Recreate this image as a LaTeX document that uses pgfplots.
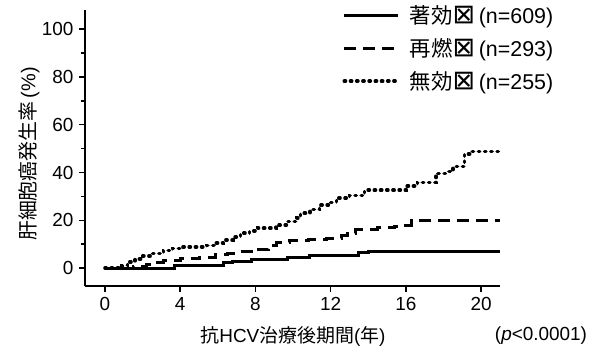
\documentclass[border=0pt]{standalone}
\usepackage{fontspec}
\setmainfont{Liberation Sans}
\newfontfamily\cjk{Noto Sans CJK JP}
\newfontfamily\dejavu{DejaVu Sans}
\usepackage{pgfplots}
\pgfplotsset{compat=1.18}
\newcommand{\bx}{{\dejavu\fontsize{27}{27}\selectfont\raisebox{-0.6bp}{⊠}}}
\begin{document}
\begin{tikzpicture}
\useasboundingbox (-85bp,-71bp) rectangle (512bp,286bp);
\begin{axis}[
 at={(0,0)}, anchor=south west,
 width=415bp, height=276bp, scale only axis,
 xmin=-1.06, xmax=21, ymin=-7.5, ymax=108,
 axis x line*=bottom, axis y line*=left,
 axis line style={line width=1.6bp, -},
 xtick={0,4,...,20}, ytick={0,20,...,100}, minor ytick={10,30,...,90},
 tick align=outside, major tick length=6bp, minor tick length=4bp,
 every tick/.style={line width=1.4bp, black},
 tick label style={font=\fontsize{19}{19}\selectfont},
 xticklabel style={yshift=-2bp},
 yticklabel style={xshift=-2bp},
 /pgf/number format/assume math mode=true,
 legend style={draw=none, fill=none, at={(rel axis cs:0.62,1.025)}, anchor=north west,
   font=\fontsize{21.5}{21.5}\selectfont, row sep=9.5bp, inner sep=0pt,
   /tikz/every odd column/.style={column sep=8bp}},
 legend image code/.code={\draw[#1] (0bp,0bp) -- (54bp,0bp);},
 legend cell align=left,
 clip=false,
]
\addplot[const plot, black, line width=3bp] coordinates {
 (0,0) (3.7,1.2) (6.3,2.5) (6.8,2.8) (7.8,3.6) (9.7,4.4) (10.9,5.3) (13.5,6.5) (14.0,7.0) (21,7.0)};
\addlegendentry{{\cjk 著効}\bx\,(n=609)}
\addplot[const plot, black, line width=3bp, dash pattern=on 12bp off 7bp] coordinates {
 (0,0) (1.5,0.8) (2.2,1.5) (2.7,2.5) (3.1,3.1) (4.0,3.9) (5.0,4.5) (5.9,5.8) (6.5,6.3) (7.2,6.8) (8.0,7.9) (8.7,9.5) (9.1,10.5) (9.8,11.7) (10.8,12.1) (11.8,12.5) (12.6,13.5) (12.9,14.6) (13.3,16.3) (14.5,16.9) (15.4,17.5) (15.6,18.0) (16.3,19.8) (21,19.8)};
\addlegendentry{{\cjk 再燃}\bx\,(n=293)}
\addplot[const plot, black, line width=3.4bp, line cap=round, dash pattern=on 1.4bp off 4.8bp] coordinates {
 (0,0) (0.9,1.0) (1.2,2.6) (1.6,3.8) (2.0,5.0) (2.5,6.0) (3.1,7.3) (3.6,8.2) (4.0,8.9) (5.4,9.4) (5.9,10.5) (6.3,11.7) (6.8,13.0) (7.2,14.6) (7.7,15.6) (8.1,16.7) (9.1,18.0) (9.7,19.4) (10.2,21.0) (10.4,23.0) (10.9,24.5) (11.4,26.4) (11.9,27.5) (12.3,29.3) (13.0,30.3) (13.8,32.6) (16.0,34.4) (16.6,35.8) (17.6,39.7) (18.2,40.3) (18.5,42.4) (19.1,47.7) (19.4,48.7) (21,48.7)};
\addlegendentry{{\cjk 無効}\bx\,(n=255)}
\end{axis}
\node[font=\fontsize{19}{19}\selectfont] at (208bp,-50bp) {{\cjk 抗}HCV{\cjk 治療後期間}({\cjk 年})};
\node[font=\fontsize{20}{20}\selectfont, rotate=90] at (-56bp,132bp) {{\cjk 肝細胞癌発生率}\,(\%)};
\node[font=\fontsize{19}{19}\selectfont] at (456bp,-50bp) {(\textit{p}<0.0001)};
\end{tikzpicture}
\end{document}
